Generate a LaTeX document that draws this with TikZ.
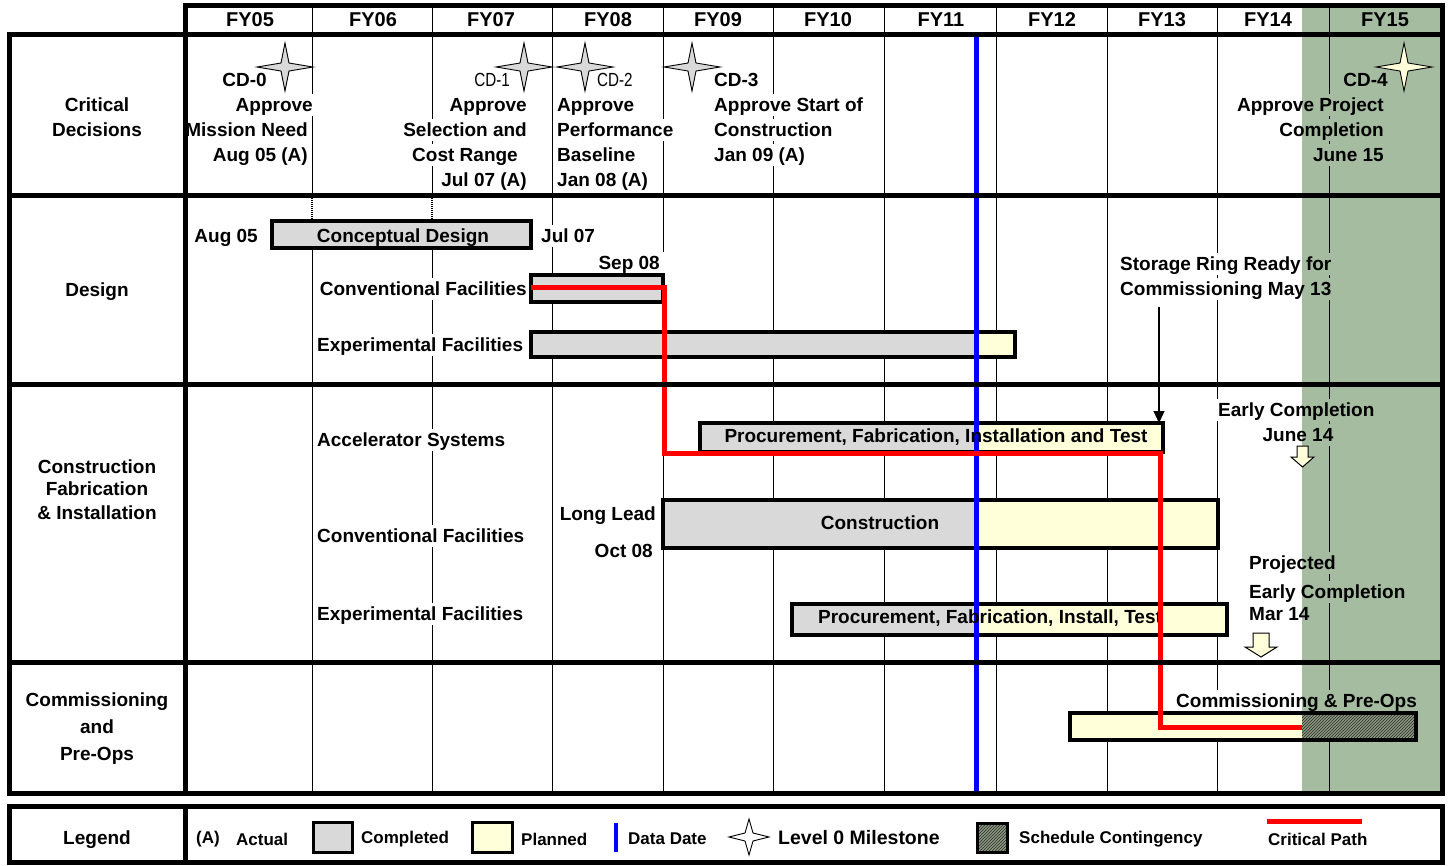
\documentclass[tikz,border=0pt]{standalone}
\usepackage{fontspec}
\setmainfont{Liberation Sans}
\newfontfamily\narrowfont[FakeStretch=0.8]{Liberation Sans}
\usetikzlibrary{patterns,arrows.meta}
\pgfdeclarelayer{gridl}
\pgfdeclarelayer{masks}
\pgfdeclarelayer{greenl}
\pgfdeclarelayer{gmasks}
\pgfsetlayers{gridl,masks,greenl,gmasks,main}
\definecolor{cgray}{RGB}{217,217,217}
\definecolor{cream}{RGB}{255,255,218}
\definecolor{cgreen}{RGB}{165,188,160}
\definecolor{hatchbg}{RGB}{140,152,130}
\definecolor{hatchfg}{RGB}{40,45,35}
\definecolor{cpred}{RGB}{255,0,0}
\definecolor{ddblue}{RGB}{0,0,255}
\tikzset{
 t/.style={font=\bfseries\fontsize{19}{22}\selectfont, inner xsep=1pt, inner ysep=4pt, text height=13.7pt, text depth=0pt},
 tl/.style={t, anchor=west},
 tr/.style={t, anchor=east},
 hdr/.style={font=\bfseries\fontsize{20}{24}\selectfont, inner sep=1pt},
 nt/.style={font=\narrowfont\fontsize{19}{22}\selectfont, inner xsep=1pt, inner ysep=4pt, text height=13.7pt, text depth=0pt},
 lg/.style={font=\bfseries\fontsize{17}{20}\selectfont, inner sep=1pt, anchor=west},
 border/.style={line width=5pt, line cap=rect},
 gridline/.style={line width=1pt, black},
 barframe/.style={draw, line width=3.5pt, rectangle, inner sep=0pt, outer sep=0pt, anchor=north west},
 milestone/.style={draw, line width=0.9pt, line join=miter},
 hollow/.style={draw, fill=cream, line width=1pt, line join=miter},
 critical/.style={draw=cpred, line width=5pt, line join=miter},
 datadate/.style={draw=ddblue, line width=4.5pt},
}
\newcommand\gbar[6]{%
  \fill[cgray] (#2,#3) rectangle (#4,#6);
  \fill[cream] (#4,#3) rectangle (#5,#6);
  \node[barframe, minimum width={#5-#2}, minimum height={#6-#3}] (#1) at (#2,#3) {};}
\newcommand\mstar[6]{%
  \begin{scope}[shift={(#2,#3)}]
    \draw[milestone, fill=#6] (0,-#5) -- (4,-4) -- (#4,0) -- (4,4) -- (0,#5) -- (-4,4) -- (-#4,0) -- (-4,-4) -- cycle;
    \coordinate (#1) at (0,0);
  \end{scope}}
\begin{document}
\begin{tikzpicture}[x=1pt,y=-1pt]
\useasboundingbox (0,0) rectangle (1448,865);

% ---------- grid ----------
\begin{pgfonlayer}{gridl}
\fill[white] (0,0) rectangle (1448,865);
\foreach \x in {552,663,773,884,996,1107,1217} \draw[gridline] (\x,5) -- (\x,793);
\foreach \x in {312,432} {
  \draw[gridline] (\x,5) -- (\x,196);
  \draw[gridline] (\x,221) -- (\x,793);
  \draw[gridline, densely dotted, line width=1.5pt] (\x,196) -- (\x,221);
}
\end{pgfonlayer}
\begin{pgfonlayer}{greenl}
\fill[cgreen] (1302,5) rectangle (1442,793);
\draw[gridline] (1329,5) -- (1329,793);
\end{pgfonlayer}

% ---------- header ----------
\foreach \lab/\cx in {FY05/250,FY06/373,FY07/491,FY08/608,FY09/718,FY10/828,FY11/941,FY12/1052,FY13/1162,FY14/1268,FY15/1385}
  \node[hdr] (h\lab) at (\cx,19.5) {\lab};

% ---------- bars ----------
\gbar{cdbar}{272}{221}{531}{531}{248}
\gbar{dcfbar}{531}{275}{663}{663}{302}
\gbar{defbar}{531}{332}{976}{1015}{357}
\gbar{accbar}{700}{423}{976}{1163}{452}
\gbar{conbar}{663}{500}{976}{1218}{548}
\gbar{expbar}{792}{604}{976}{1227}{635}
\fill[cream] (1070,713) rectangle (1302,740);
\fill[hatchbg] (1302,713) rectangle (1416,740);
\fill[pattern=north east lines, pattern color=hatchfg] (1302,713) rectangle (1416,740);
\node[barframe, minimum width=346, minimum height=27] (combar) at (1070,713) {};

% ---------- data date ----------
\coordinate (ddtop) at (976.5,34);
\coordinate (ddbot) at (976.5,793);
\draw[datadate] (ddtop) -- (ddbot);

% ---------- milestones ----------
\mstar{s0}{285}{67}{28}{24}{cgray}
\mstar{s1}{524}{67}{28}{24}{cgray}
\mstar{s2}{585}{67}{28}{24}{cgray}
\mstar{s3}{692}{67}{28}{24}{cgray}
\mstar{s4}{1404}{67}{28}{24}{cream}

% ---------- texts: critical decisions ----------
\node[t] (lcd1) at (97,105) {Critical};
\node[t] (lcd2) at (97,130) {Decisions};
\node[tr] (cd0) at (268,80) {CD-0};
\node[tr] (cd0a) at (314,105) {Approve};
\node[tr] (cd0b) at (309,130) {Mission Need};
\node[tr] (cd0c) at (309,155) {Aug 05 (A)};
\node[nt, anchor=east] (cd1) at (511,80) {CD-1};
\node[tr] (cd1a) at (528,105) {Approve};
\node[tr] (cd1b) at (528,130) {Selection and};
\node[tr] (cd1c) at (519,155) {Cost Range};
\node[tr] (cd1d) at (528,180) {Jul 07 (A)};
\node[nt, anchor=west] (cd2) at (596,80) {CD-2};
\node[tl] (cd2a) at (556,105) {Approve};
\node[tl] (cd2b) at (556,130) {Performance};
\node[tl] (cd2c) at (556,155) {Baseline};
\node[tl] (cd2d) at (556,180) {Jan 08 (A)};
\node[tl] (cd3) at (713,80) {CD-3};
\node[tl] (cd3a) at (713,105) {Approve Start of};
\node[tl] (cd3b) at (713,130) {Construction};
\node[tl] (cd3c) at (713,155) {Jan 09 (A)};
\node[tr] (cd4) at (1389,80) {CD-4};
\node[tr] (cd4a) at (1385,105) {Approve Project};
\node[tr] (cd4b) at (1385,130) {Completion};
\node[tr] (cd4c) at (1385,155) {June 15};

% ---------- texts: design ----------
\node[t] (ldes) at (97,290) {Design};
\node[tr] (aug05) at (259,236) {Aug 05};
\node[t] (cdtext) at (403,236) {Conceptual Design};
\node[tl] (jul07) at (540,236) {Jul 07};
\node[tr] (sep08) at (661,263) {Sep 08};
\node[tr] (dcf) at (528,289) {Conventional Facilities};
\node[tl] (def) at (316,345) {Experimental Facilities};
\node[tl] (sr1) at (1119,264) {Storage Ring Ready for};
\node[tl] (sr2) at (1119,289) {Commissioning May 13};

% ---------- texts: construction ----------
\node[t] (lc1) at (97,467) {Construction};
\node[t] (lc2) at (97,489) {Fabrication};
\node[t] (lc3) at (97,513) {\& Installation};
\node[tl] (acc) at (316,440) {Accelerator Systems};
\node[tl] (ccf) at (316,536) {Conventional Facilities};
\node[tl] (cef) at (316,614) {Experimental Facilities};
\node[tr] (ll1) at (657,514) {Long Lead};
\node[tr] (ll2) at (654,551) {Oct 08};
\node[t] (acctext) at (936,436) {Procurement, Fabrication, Installation and Test};
\node[t] (context) at (880,523) {Construction};
\node[t] (exptext) at (990,617) {Procurement, Fabrication, Install, Test};
\node[tl] (ec1) at (1217,410) {Early Completion};
\node[t] (ec2) at (1298,435) {June 14};
\node[tl] (pj1) at (1248,563) {Projected};
\node[tl] (pj2) at (1248,592) {Early Completion};
\node[tl] (pj3) at (1248,614) {Mar 14};

% ---------- texts: commissioning ----------
\node[t] (lm1) at (97,700) {Commissioning};
\node[t] (lm2) at (97,727) {and};
\node[t] (lm3) at (97,754) {Pre-Ops};
\node[tl] (cpo) at (1175,701) {Commissioning \& Pre-Ops};

% ---------- masks ----------
\begin{pgfonlayer}{masks}
\foreach \n in {lcd1,lcd2,cd0,cd0a,cd0b,cd0c,cd1,cd1a,cd1b,cd1c,cd1d,cd2,cd2a,cd2b,cd2c,cd2d,cd3,cd3a,cd3b,cd3c,cd4,cd4a,cd4b,cd4c,ldes,aug05,jul07,sep08,dcf,def,sr1,sr2,lc1,lc2,lc3,acc,ccf,cef,ll1,ll2,ec1,ec2,pj1,pj2,pj3,lm1,lm2,lm3,cpo}
  \fill[white] ([xshift=-3pt]\n.south west) rectangle ([xshift=3pt]\n.north east);
\end{pgfonlayer}
\begin{pgfonlayer}{gmasks}
\begin{scope}
\clip (1302,5) rectangle (1442,793);
\foreach \n in {cd4,cd4a,cd4b,cd4c,sr1,sr2,ec1,ec2,pj1,pj2,pj3,cpo}
  \fill[cgreen] ([xshift=-3pt]\n.south west) rectangle ([xshift=3pt]\n.north east);
\end{scope}
\end{pgfonlayer}

% ---------- arrows ----------
\coordinate (srtail) at (1159,307);
\draw[line width=1.2pt, -{Triangle[length=12pt,width=11pt]}] (srtail) -- (srtail |- accbar.north);
\draw[hollow] (1297,446) -- (1308,446) -- (1308,457) -- (1314,457) -- (1302.5,467) -- (1291,457) -- (1297,457) -- cycle;
\draw[hollow] (1253,633) -- (1269,633) -- (1269,647) -- (1277,647) -- (1261,657) -- (1245,647) -- (1253,647) -- cycle;

% ---------- critical path ----------
\coordinate (cp0) at (531,287);
\coordinate (cp1) at (664,287);
\coordinate (cp2) at (664,453);
\coordinate (cp3) at (1160,453);
\coordinate (cp4) at (1160,727);
\coordinate (cp5) at (1302,727);
\draw[critical] (cp0) -- (cp1) -- (cp2) -- (cp3) -- (cp4) -- (cp5);

% ---------- borders ----------
\draw[border] (185,34) -- (185,5) -- (1442,5) -- (1442,34);
\draw[border] (9,34) rectangle (1442,793);
\draw[border] (9,195) -- (1442,195);
\draw[border] (9,384) -- (1442,384);
\draw[border] (9,662.5) -- (1442,662.5);
\draw[border] (185,34) -- (185,793);

% ---------- legend ----------
\draw[border] (9,806) rectangle (1442,862);
\draw[border] (185,806) -- (185,862);
\node[t] (leg) at (97,838) {Legend};
\node[lg] (la) at (195,839) {(A)};
\node[lg] (lact) at (235,839) {Actual};
\node[barframe, fill=cgray, line width=3pt, minimum width=39, minimum height=30] (lcompbox) at (313,822) {};
\node[lg] (lcomp) at (360,839) {Completed};
\node[barframe, fill=cream, line width=3pt, minimum width=40, minimum height=30] (lplanbox) at (472,822) {};
\node[lg] (lplan) at (520,839) {Planned};
\coordinate (lddtop) at (616,823);
\coordinate (lddbot) at (616,852);
\draw[datadate] (lddtop) -- (lddbot);
\node[lg] (ldd) at (627,839) {Data Date};
\mstar{ls}{749}{837}{20}{18}{white}
\node[lg, font=\bfseries\fontsize{19.5}{22}\selectfont] (lms) at (777,838) {Level 0 Milestone};
\fill[hatchbg] (977,823) rectangle (1007,852);
\fill[pattern=north east lines, pattern color=hatchfg] (977,823) rectangle (1007,852);
\node[barframe, line width=3pt, minimum width=30, minimum height=29] (lscbox) at (977,823) {};
\node[lg] (lsc) at (1018,839) {Schedule Contingency};
\coordinate (lcpa) at (1267,821);
\coordinate (lcpb) at (1362,821);
\draw[critical] (lcpa) -- (lcpb);
\node[lg] (lcp) at (1267,839) {Critical Path};
\end{tikzpicture}
\end{document}
